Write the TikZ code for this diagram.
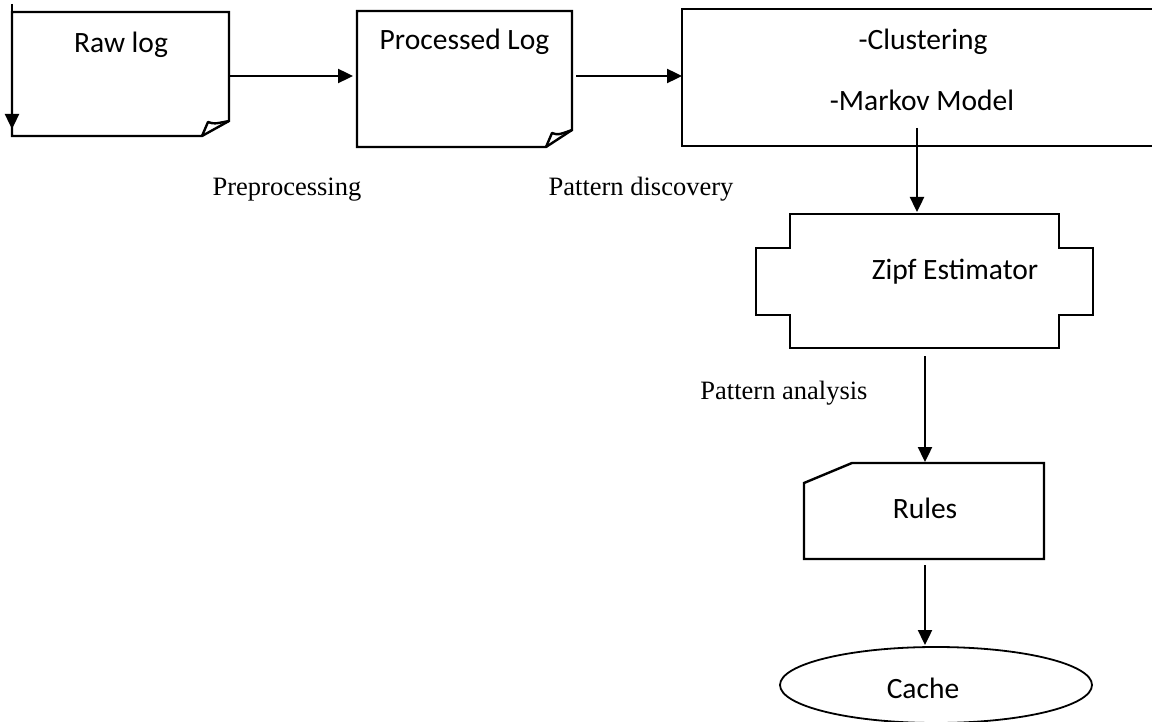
\documentclass[tikz,border=0pt]{standalone}
\usepackage{fontspec}
\setmainfont{Liberation Serif}
\newfontfamily\boxfont{Carlito}
\usetikzlibrary{arrows.meta}
\tikzset{
  shapeline/.style={draw=black, line width=2.4pt, line join=miter},
  flow/.style={draw=black, line width=2.4pt, -{Triangle[length=15pt,width=14pt]}},
  boxtext/.style={font=\boxfont\fontsize{29.5}{34}\selectfont, inner sep=0pt},
  labeltext/.style={font=\fontsize{26.5}{31}\selectfont, inner sep=0pt},
}
\begin{document}
\begin{tikzpicture}[x=1pt,y=-1pt]
\useasboundingbox (0,0) rectangle (1152,722);
\clip (0,0) rectangle (1152,722);
% Raw log
\draw[shapeline] (12,12) -- (229,12) -- (229,121) -- (202,136) -- (12,136) -- cycle;
\draw[shapeline, line join=round] (202,136) -- (208,122) .. controls (214,124) .. (229,121);
\node[boxtext] (raw) at (121,45) {Raw log};
\coordinate (rawE) at (229,76);
\coordinate (rawTop) at (12,4);
\coordinate (rawLeft) at (12,129);
% Processed Log
\draw[shapeline] (357,11) -- (572,11) -- (572,130) -- (546,147) -- (357,147) -- cycle;
\draw[shapeline, line join=round] (546,147) -- (552,133) .. controls (558,135) .. (572,130);
\node[boxtext] (proc) at (464.5,42) {Processed Log};
\coordinate (procW) at (353,76);
\coordinate (procE) at (576,76);
% Clustering / Markov
\draw[shapeline] (682,9) rectangle (1170,146);
\node[boxtext] (clus) at (923,42) {-Clustering};
\node[boxtext] (markov) at (922,100) {-Markov Model};
\coordinate (clusW) at (682,76);
\coordinate (clusS) at (917,128);
% Zipf Estimator
\draw[shapeline] (790,214) -- (1059,214) -- (1059,248) -- (1093,248) -- (1093,315) -- (1059,315) -- (1059,348) -- (790,348) -- (790,315) -- (756,315) -- (756,248) -- (790,248) -- cycle;
\node[boxtext] (zipf) at (955,272) {Zipf Estimator};
\coordinate (zipfN) at (917,212);
\coordinate (zipfS) at (925,356);
% Rules
\draw[shapeline] (852,463) -- (1044,463) -- (1044,559) -- (804,559) -- (804,483) -- cycle;
\node[boxtext] (rules) at (925,508) {Rules};
\coordinate (rulesN) at (925,462);
\coordinate (rulesS) at (925,565);
% Cache
\draw[line width=1.8pt] (936,685) ellipse [x radius=156, y radius=38];
\node[boxtext] (cache) at (923,688) {Cache};
\coordinate (cacheN) at (925,645);
% Labels
\node[labeltext] (pre) at (287,190) {Preprocessing};
\node[labeltext] (pdisc) at (641,189) {Pattern discovery};
\node[labeltext] (pan) at (784,393) {Pattern analysis};
% Connectors
\draw[flow] (rawTop) -- (rawLeft);
\draw[flow] (rawE) -- (procW);
\draw[flow] (procE) -- (clusW);
\draw[flow] (clusS) -- (zipfN);
\draw[flow] (zipfS) -- (rulesN);
\draw[flow] (rulesS) -- (cacheN);
\end{tikzpicture}
\end{document}
